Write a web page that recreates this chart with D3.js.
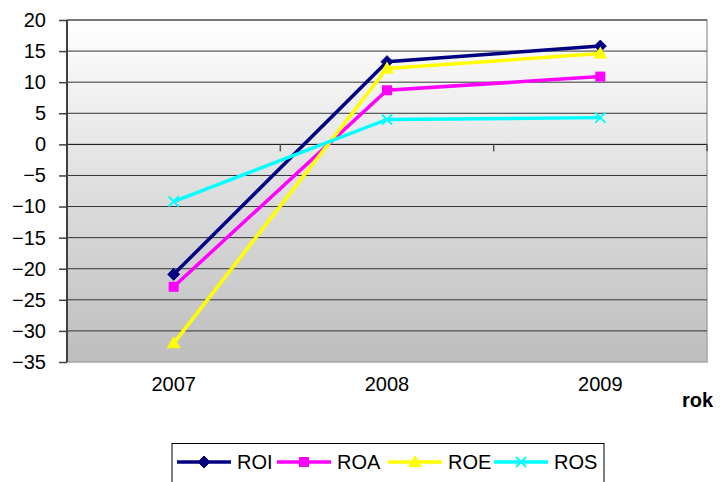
<!DOCTYPE html>
<html>
<head>
<meta charset="utf-8">
<script src="https://cdn.jsdelivr.net/npm/d3@7"></script>
<style>
body { margin: 0; background: #fff; }
text { font-family: "Liberation Sans", Arial, sans-serif; }
</style>
</head>
<body>
<svg id="chart" width="720" height="482"></svg>
<script>
// data
var years = ["2007", "2008", "2009"];
var roi = [-20.9, 13.3, 15.8];
var roa = [-22.9, 8.7, 10.9];
var roe = [-32.0, 12.2, 14.6];
var ros = [-9.2, 4.0, 4.3];
var yTicks = [20, 15, 10, 5, 0, -5, -10, -15, -20, -25, -30, -35];

var series = [
	{name: "ROI", values: roi, color: "#000080", marker: "diamond"},
	{name: "ROA", values: roa, color: "#ff00ff", marker: "square"},
	{name: "ROE", values: roe, color: "#ffff00", marker: "triangle"},
	{name: "ROS", values: ros, color: "#00ffff", marker: "cross"}
];

var	svg	= d3.select("#chart"),
	pLeft	= 67, pRight = 707, pTop = 20, pBottom = 362;

var x = d3.scaleBand().domain(years).range([pLeft, pRight]);
var y = d3.scaleLinear().domain([-35, 20]).range([pBottom, pTop]);

// plot background gradient
var grad = svg.append("defs").append("linearGradient")
	.attr("id", "bg").attr("x1", 0).attr("y1", 0).attr("x2", 0).attr("y2", 1);
grad.append("stop").attr("offset", "0%").attr("stop-color", "#ffffff");
grad.append("stop").attr("offset", "100%").attr("stop-color", "#bdbdbd");

svg.append("rect")
	.attr("x", pLeft).attr("y", pTop)
	.attr("width", pRight - pLeft).attr("height", pBottom - pTop)
	.attr("fill", "url(#bg)")
	.attr("stroke", "#a6a6a6").attr("stroke-width", 1.5);

// gridlines
svg.append("g").selectAll("line").data(yTicks.filter(function(d) { return d != -35; }))
	.enter().append("line")
	.attr("x1", pLeft).attr("x2", pRight)
	.attr("y1", function(d) { return y(d); }).attr("y2", function(d) { return y(d); })
	.attr("stroke", function(d) { return d == 0 ? "#000" : "#333"; })
	.attr("stroke-width", 1);

// y axis
var gy = svg.append("g").attr("transform", "translate(" + pLeft + ",0)")
	.call(d3.axisLeft(y).tickValues(yTicks).tickSize(8).tickPadding(13));
gy.select(".domain").attr("stroke", "#404040").attr("stroke-width", 2).attr("d", "M0," + pTop + "V" + pBottom);
gy.selectAll(".tick line").attr("stroke", "#404040").attr("stroke-width", 1.5);
gy.selectAll(".tick text").attr("font-size", 20).attr("fill", "#000")
	.attr("font-family", "Liberation Sans, Arial, sans-serif");

// x axis ticks crossing at zero
var bounds = years.slice(1).map(function(d) { return x(d); }).concat([pRight]);
svg.append("g").selectAll("line").data(bounds).enter().append("line")
	.attr("x1", function(d) { return d; }).attr("x2", function(d) { return d; })
	.attr("y1", y(0)).attr("y2", y(0) + 7)
	.attr("stroke", "#555").attr("stroke-width", 1.5);

// x labels
var gx = svg.append("g").attr("transform", "translate(0," + pBottom + ")")
	.call(d3.axisBottom(x).tickSize(0).tickPadding(15));
gx.select(".domain").remove();
gx.selectAll(".tick text").attr("font-size", 20).attr("fill", "#000")
	.attr("font-family", "Liberation Sans, Arial, sans-serif");

svg.append("text").attr("x", 682).attr("y", 407)
	.attr("font-size", 20).attr("font-weight", "bold").text("rok");

// markers
function drawMarker(g, type, color) {
	if (type == "diamond")
		g.append("path").attr("d", "M0,-6L6,0L0,6L-6,0Z").attr("fill", color).attr("stroke", color);
	else if (type == "square")
		g.append("rect").attr("x", -5).attr("y", -5).attr("width", 10).attr("height", 10).attr("fill", color);
	else if (type == "triangle")
		g.append("path").attr("d", "M0,-7L7,5L-7,5Z").attr("fill", color);
	else
		g.append("path").attr("d", "M-5,-5L5,5M5,-5L-5,5").attr("stroke", color).attr("stroke-width", 2).attr("fill", "none");
}

var line = d3.line()
	.x(function(d, i) { return x(years[i]) + x.bandwidth() / 2; })
	.y(function(d) { return y(d); });

series.forEach(function(s) {
	var g = svg.append("g");
	g.append("path").attr("d", line(s.values))
		.attr("fill", "none").attr("stroke", s.color).attr("stroke-width", 3.5);
	s.values.forEach(function(v, i) {
		var m = g.append("g").attr("transform", "translate(" + (x(years[i]) + x.bandwidth() / 2) + "," + y(v) + ")");
		drawMarker(m, s.marker, s.color);
	});
});

// legend
var lg = svg.append("g");
lg.append("rect").attr("x", 172).attr("y", 443.5).attr("width", 432).attr("height", 50)
	.attr("fill", "#fff").attr("stroke", "#000").attr("stroke-width", 1);
var lx = [177, 277, 388, 494];
series.forEach(function(s, i) {
	var it = lg.append("g").attr("transform", "translate(" + lx[i] + ",462)");
	it.append("line").attr("x1", 0).attr("x2", 54).attr("stroke", s.color).attr("stroke-width", 3.5);
	drawMarker(it.append("g").attr("transform", "translate(27,0)"), s.marker, s.color);
	it.append("text").attr("x", 60).attr("y", 7).attr("font-size", 20).text(s.name);
});
</script>
</body>
</html>
